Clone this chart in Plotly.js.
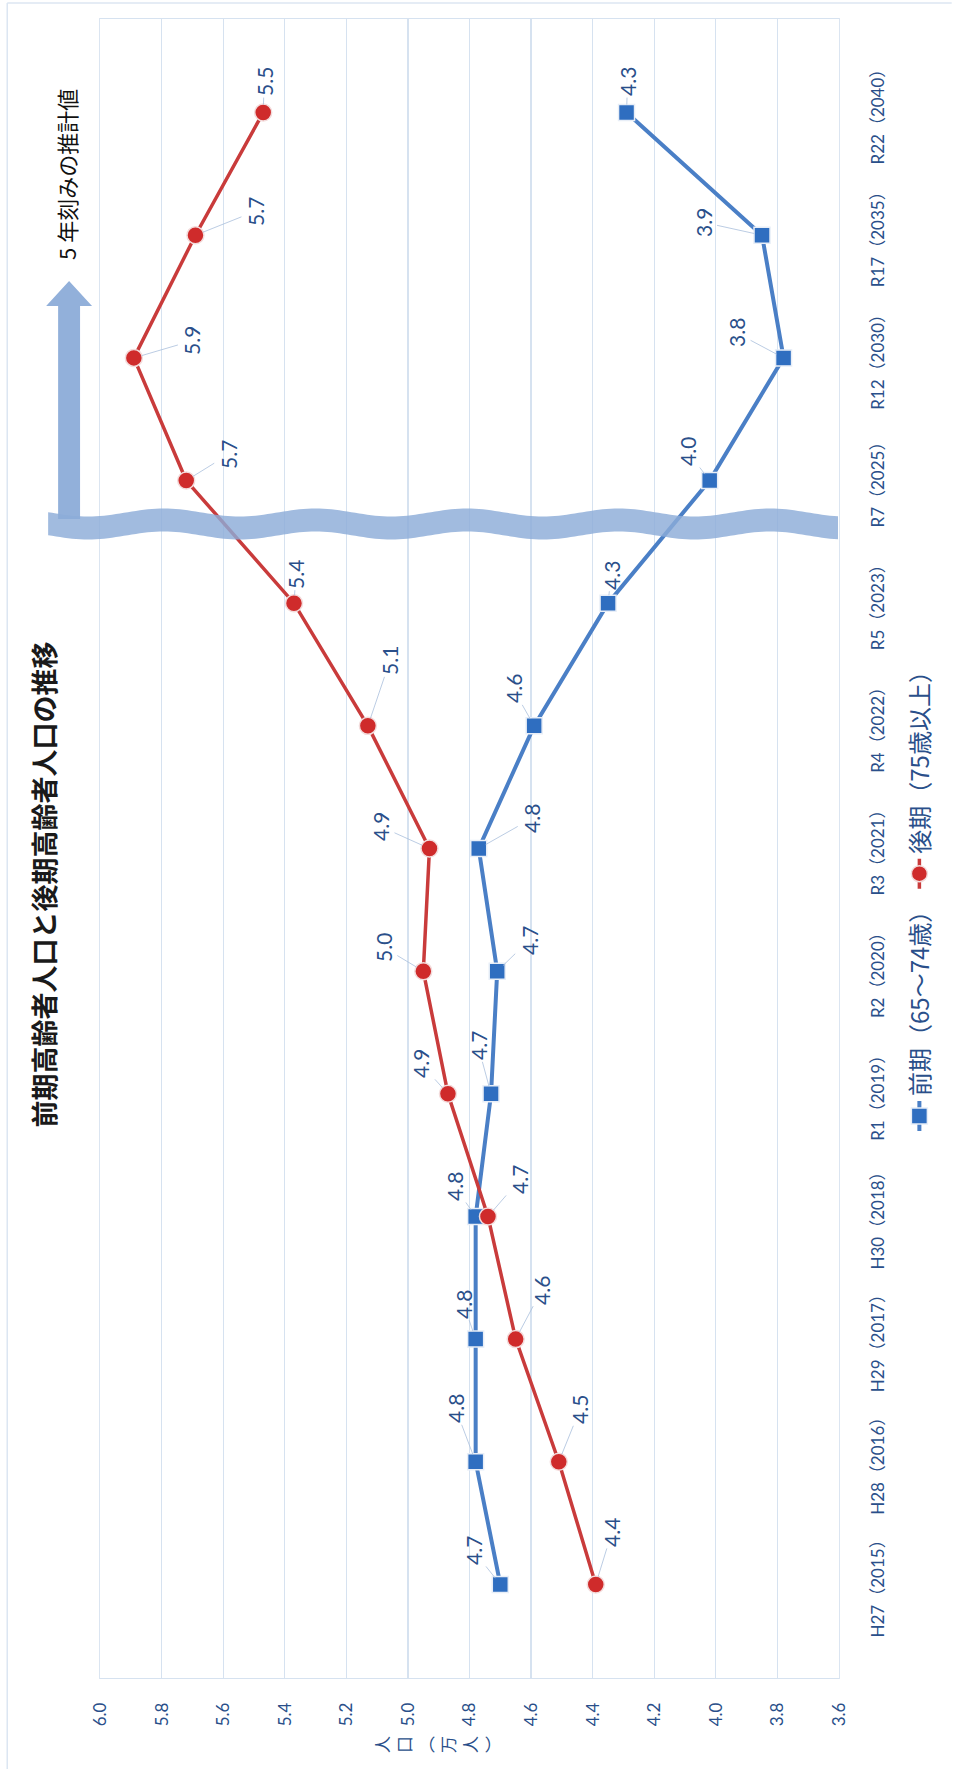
<!DOCTYPE html>
<html>
<head>
<meta charset="utf-8">
<script src="https://cdn.plot.ly/plotly-3.0.1.min.js"></script>
<style>
html,body{margin:0;padding:0;overflow:hidden;background:#fff;width:954px;height:1769px;}
#wrap{position:absolute;left:0;top:0;width:1769px;height:954px;transform-origin:0 0;transform:translate(0px,1769px) rotate(-90deg);}
#chart{width:1769px;height:954px;}
</style>
</head>
<body>
<div id="wrap"><div id="chart"></div></div>
<script>
// ---- data ----
const categories = ['H27（2015）','H28（2016）','H29（2017）','H30（2018）','R1（2019）','R2（2020）','R3（2021）','R4（2022）','R5（2023）','R7（2025）','R12（2030）','R17（2035）','R22（2040）'];
const zenki = [4.70,4.78,4.78,4.78,4.73,4.71,4.77,4.59,4.35,4.02,3.78,3.85,4.29];
const kouki = [4.39,4.51,4.65,4.74,4.87,4.95,4.93,5.13,5.37,5.72,5.89,5.69,5.47];
const zenkiLabels = ['4.7','4.8','4.8','4.8','4.7','4.7','4.8','4.6','4.3','4.0','3.8','3.9','4.3'];
const koukiLabels = ['4.4','4.5','4.6','4.7','4.9','5.0','4.9','5.1','5.4','5.7','5.9','5.7','5.5'];
const yTickVals = [3.6,3.8,4.0,4.2,4.4,4.6,4.8,5.0,5.2,5.4,5.6,5.8,6.0];
const yTickText = ['3.6','3.8','4.0','4.2','4.4','4.6','4.8','5.0','5.2','5.4','5.6','5.8','6.0'];
const zenkiName = '前期（65～74歳）';
const koukiName = '後期（75歳以上）';
const titleText = '前期高齢者人口と後期高齢者人口の推移';
const yTitleText = '人<br>口<br>︵<br>万<br>人<br>︶';
const noteText = '5 年刻みの推計値';

// ---- label offsets (style, pixels) ----
const zenkiOff = [[34,-27],[53,-20],[35,-12],[30,-21],[48,-13],[31,32],[30,53],[37,-21],[28,3],[29,-22],[25,-47],[13,-59],[31,1]];
const koukiOff = [[52,16],[52,21],[49,26],[37,32],[30,-27],[24,-40],[22,-49],[65,22],[29,2],[26,42],[17,58],[24,60],[31,1]];

// ---- geometry helpers (layout in the unrotated frame) ----
const W = 1769, H = 954;
const mL = 91, mR = 19, mT = 100, mB = 113;
const pw = W - mL - mR, ph = H - mT - mB;
const px = x => (x - mL) / pw;
const py = y => (H - mB - y) / ph;

const labelColor = '#2a4f8a';
const numFont = 'Lato, "Noto Sans CJK JP", sans-serif';
const jpFont = '"Noto Sans CJK JP", "Noto Sans", sans-serif';

const traces = [
  {
    x: categories, y: zenki, name: zenkiName, type: 'scatter', mode: 'lines+markers',
    line: {color: '#4a7fc6', width: 4},
    marker: {symbol: 'square', size: 16, color: '#2f6ec0', line: {color: '#e8eef7', width: 1.5}}
  },
  {
    x: categories, y: kouki, name: koukiName, type: 'scatter', mode: 'lines+markers',
    line: {color: '#c93b3b', width: 3.5},
    marker: {symbol: 'circle', size: 17, color: '#cf2b2b', line: {color: '#f3dcdc', width: 1.5}}
  }
];

const annotations = [];
function addLabels(vals, labels, offs) {
  vals.forEach((v, i) => {
    annotations.push({
      x: categories[i], y: v, xref: 'x', yref: 'y', text: labels[i],
      showarrow: true, arrowhead: 0, arrowwidth: 0.8, arrowcolor: '#a9bfdc',
      ax: offs[i][0], ay: offs[i][1], standoff: 8,
      font: {family: numFont, size: 21, color: labelColor}
    });
  });
}
addLabels(zenki, zenkiLabels, zenkiOff);
addLabels(kouki, koukiLabels, koukiOff);

annotations.push({
  xref: 'paper', yref: 'paper', x: px(24), y: py(438), text: yTitleText, showarrow: false,
  xanchor: 'center', yanchor: 'middle', align: 'center',
  font: {family: jpFont, size: 17, color: labelColor}
});
annotations.push({
  xref: 'paper', yref: 'paper', x: px(1507), y: py(66), text: noteText, showarrow: false,
  xanchor: 'left', yanchor: 'middle',
  font: {family: jpFont, size: 22, color: '#111111'}
});

// wavy break band
let pts = [];
for (let y = 48; y <= 841; y += 4) {
  const xr = 1256.5 + 4 * Math.cos(2 * Math.PI * (y - 164) / 152);
  pts.push([xr, y]);
}
let path = 'M ' + pts.map(p => px(p[0]).toFixed(5) + ',' + py(p[1]).toFixed(5)).join(' L ');
path += ' L ' + pts.slice().reverse().map(p => px(p[0] - 23).toFixed(5) + ',' + py(p[1]).toFixed(5)).join(' L ') + ' Z';

const arrowPts = [[1250,58],[1463,58],[1463,46],[1488,69],[1463,92],[1463,80],[1250,80]];
const arrowPath = 'M ' + arrowPts.map(p => px(p[0]).toFixed(5) + ',' + py(p[1]).toFixed(5)).join(' L ') + ' Z';

const shapes = [
  {type: 'path', xref: 'paper', yref: 'paper', path: path, fillcolor: 'rgba(140,172,216,0.82)', line: {width: 0}, layer: 'above'},
  {type: 'path', xref: 'paper', yref: 'paper', path: arrowPath, fillcolor: 'rgba(140,172,216,0.95)', line: {width: 0}, layer: 'above'},
  {type: 'line', xref: 'paper', yref: 'paper', x0: px(0), x1: px(1766), y0: py(7), y1: py(7), line: {color: '#dce6f2', width: 1.5}},
  {type: 'line', xref: 'paper', yref: 'paper', x0: px(1766), x1: px(1766), y0: py(7), y1: py(954), line: {color: '#dce6f2', width: 1.5}}
];

const layout = {
  width: W, height: H,
  margin: {l: mL, r: mR, t: mT, b: mB, pad: 0},
  paper_bgcolor: '#ffffff', plot_bgcolor: '#ffffff',
  title: {
    text: '<b>' + titleText + '</b>', xref: 'container', x: 0.5, xanchor: 'center',
    yref: 'container', y: 1 - 46 / H, yanchor: 'middle',
    font: {family: jpFont, size: 27, color: '#1a1a1a'}
  },
  xaxis: {
    type: 'category', categoryorder: 'array', categoryarray: categories,
    showgrid: false, zeroline: false, showline: true, mirror: true, linecolor: '#dbe5f1', linewidth: 1.2,
    ticks: '', ticklabelstandoff: 23, tickangle: 0, automargin: false,
    tickfont: {family: numFont, size: 17, color: labelColor}
  },
  yaxis: {
    range: [3.6, 6.0], tickvals: yTickVals, ticktext: yTickText,
    showgrid: true, gridcolor: '#d6e2f0', gridwidth: 1.2, zeroline: false,
    showline: true, mirror: true, linecolor: '#d6e2f0', linewidth: 1.2,
    ticks: '', ticklabelstandoff: 20, automargin: false,
    tickfont: {family: numFont, size: 17, color: labelColor}
  },
  legend: {
    orientation: 'h', xref: 'paper', yref: 'paper', x: px(874), xanchor: 'center',
    y: py(922), yanchor: 'middle', bgcolor: 'rgba(0,0,0,0)',
    font: {family: jpFont, size: 24, color: labelColor}, itemwidth: 30
  },
  showlegend: true,
  annotations: annotations,
  shapes: shapes
};

Plotly.newPlot('chart', traces, layout, {staticPlot: true, displayModeBar: false});
</script>
</body>
</html>
